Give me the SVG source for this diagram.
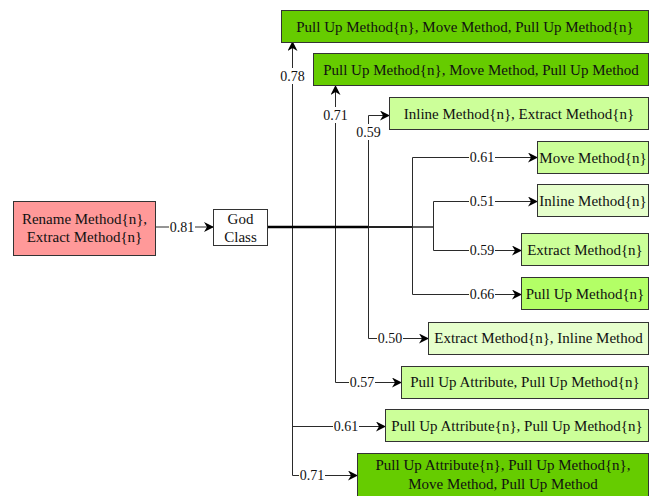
<svg xmlns="http://www.w3.org/2000/svg" width="650" height="496" viewBox="0 0 650 496">
<style>
.box{stroke:#333;stroke-width:1}
.t{font-family:"Liberation Serif","Times New Roman",serif;font-size:15px;fill:#111;text-anchor:middle}
.l{font-family:"Liberation Serif","Times New Roman",serif;font-size:14px;fill:#111;text-anchor:middle}
.c{fill:none;stroke:#2a2a2a;stroke-width:1}
.bg{fill:#fff}
</style>
<defs>
<marker id="ah" viewBox="0 0 10 10" refX="9" refY="5" markerWidth="10" markerHeight="10" markerUnits="userSpaceOnUse" orient="auto">
<path d="M0,0 L10,5 L0,10 L3,5 Z" fill="#000"/>
</marker>
</defs>
<rect width="650" height="496" fill="#fff"/>
<g id="connectors">
<path class="c" d="M156,227 H213" marker-end="url(#ah)"/>
<path class="c" d="M267,227 H292.5 V42" marker-end="url(#ah)"/>
<path class="c" d="M267,227 H335.5 V86" marker-end="url(#ah)"/>
<path class="c" d="M267,227 H368.5 V115.5 H389" marker-end="url(#ah)"/>
<path class="c" d="M267,227 H412.5 V157.5 H537" marker-end="url(#ah)"/>
<path class="c" d="M267,227 H433.5 V201.5 H537" marker-end="url(#ah)"/>
<path class="c" d="M267,227 H433.5 V250.5 H521" marker-end="url(#ah)"/>
<path class="c" d="M267,227 H412.5 V294.5 H521" marker-end="url(#ah)"/>
<path class="c" d="M267,227 H368.5 V338.5 H428" marker-end="url(#ah)"/>
<path class="c" d="M267,227 H335.5 V382.5 H401" marker-end="url(#ah)"/>
<path class="c" d="M267,227 H292.5 V426.5 H385" marker-end="url(#ah)"/>
<path class="c" d="M267,227 H292.5 V475.5 H357" marker-end="url(#ah)"/>
<path d="M267,227 H368" stroke="#000" stroke-width="2.5" fill="none"/>
<path d="M368,227 H412" stroke="#222" stroke-width="1.8" fill="none"/>
<rect class="bg" x="169" y="220" width="26" height="14"/><text class="l" x="182" y="232">0.81</text>
<rect class="bg" x="279" y="68" width="27" height="16"/><text class="l" x="292.5" y="81">0.78</text>
<rect class="bg" x="322" y="107" width="27" height="16"/><text class="l" x="335.5" y="120">0.71</text>
<rect class="bg" x="355" y="124" width="27" height="16"/><text class="l" x="368.5" y="137">0.59</text>
<rect class="bg" x="469" y="150" width="26" height="14"/><text class="l" x="482" y="162">0.61</text>
<rect class="bg" x="469" y="194" width="26" height="14"/><text class="l" x="482" y="206">0.51</text>
<rect class="bg" x="469" y="243" width="26" height="14"/><text class="l" x="482" y="255">0.59</text>
<rect class="bg" x="469" y="287" width="26" height="14"/><text class="l" x="482" y="299">0.66</text>
<rect class="bg" x="377" y="331" width="26" height="14"/><text class="l" x="390" y="343">0.50</text>
<rect class="bg" x="349" y="375" width="26" height="14"/><text class="l" x="362" y="387">0.57</text>
<rect class="bg" x="333" y="419" width="26" height="14"/><text class="l" x="346" y="431">0.61</text>
<rect class="bg" x="299" y="468" width="26" height="14"/><text class="l" x="312" y="480">0.71</text>
</g>
<g id="n-source"><rect class="box" x="13.5" y="201.5" width="142" height="54" fill="#ff9999"/>
<text class="t" x="84.5" y="224">Rename Method{n},</text><text class="t" x="84.5" y="242">Extract Method{n}</text></g>
<g id="n-god"><rect class="box" x="213.5" y="209.5" width="54" height="36" fill="#fff"/>
<text class="t" x="240.5" y="224">God</text><text class="t" x="240.5" y="242">Class</text></g>
<g id="n1"><rect class="box" x="281.5" y="10.5" width="367" height="32" fill="#66cc00"/>
<text class="t" x="465" y="31.5">Pull Up Method{n}, Move Method, Pull Up Method{n}</text></g>
<g id="n2"><rect class="box" x="313.5" y="53.5" width="335" height="32" fill="#66cc00"/>
<text class="t" x="481" y="75">Pull Up Method{n}, Move Method, Pull Up Method</text></g>
<g id="n3"><rect class="box" x="389.5" y="97.5" width="259" height="32" fill="#ccff99"/>
<text class="t" x="519" y="119">Inline Method{n}, Extract Method{n}</text></g>
<g id="n4"><rect class="box" x="537.5" y="141.5" width="111" height="32" fill="#ccff99"/>
<text class="t" x="593" y="163">Move Method{n}</text></g>
<g id="n5"><rect class="box" x="537.5" y="184.5" width="111" height="32" fill="#e6ffcc"/>
<text class="t" x="593" y="206">Inline Method{n}</text></g>
<g id="n6"><rect class="box" x="521.5" y="233.5" width="127" height="32" fill="#ccff99"/>
<text class="t" x="585" y="255">Extract Method{n}</text></g>
<g id="n7"><rect class="box" x="521.5" y="277.5" width="127" height="32" fill="#b3ff66"/>
<text class="t" x="585" y="299">Pull Up Method{n}</text></g>
<g id="n8"><rect class="box" x="428.5" y="322.5" width="220" height="32" fill="#e6ffcc"/>
<text class="t" x="538.5" y="343">Extract Method{n}, Inline Method</text></g>
<g id="n9"><rect class="box" x="401.5" y="366.5" width="247" height="32" fill="#ccff99"/>
<text class="t" x="525" y="387">Pull Up Attribute, Pull Up Method{n}</text></g>
<g id="n10"><rect class="box" x="385.5" y="409.5" width="263" height="32" fill="#ccff99"/>
<text class="t" x="517" y="431">Pull Up Attribute{n}, Pull Up Method{n}</text></g>
<g id="n11"><rect class="box" x="357.5" y="453.5" width="291" height="44" fill="#66cc00"/>
<text class="t" x="503" y="470">Pull Up Attribute{n}, Pull Up Method{n},</text><text class="t" x="503" y="489">Move Method, Pull Up Method</text></g>
</svg>
